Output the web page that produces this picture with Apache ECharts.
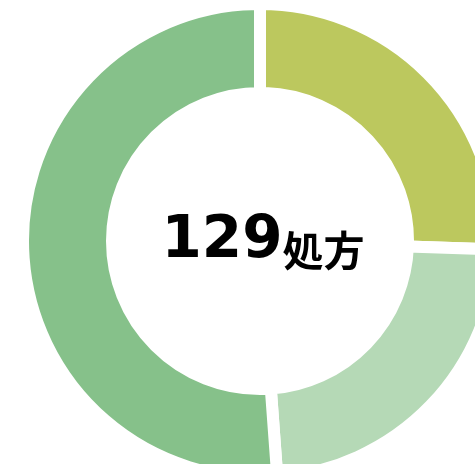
<!DOCTYPE html>
<html>
<head>
    <meta charset="utf-8">
    <title>処方</title>
    <script src="https://cdn.jsdelivr.net/npm/echarts@6/dist/echarts.min.js"></script>
    <style>
      html, body { margin: 0; padding: 0; background: #fff; }
    </style>
</head>
<body>
    <div id="main" style="width:475px;height:464px;"></div>
    <script type="text/javascript">
      // データ
      var categories = ['区分1', '区分2', '区分3'];
      var values = [33, 30, 66];
      var colors = ['#BCC85E', '#B5D9B6', '#86C18A'];
      var unit = '処方';

      var total = values.reduce(function (a, b) { return a + b; }, 0);

      var echart = echarts.init(document.getElementById('main'));
      var option = {
        animation: false,
        series: [{
          type: 'pie',
          center: [260, 241],
          radius: [148, 237],
          startAngle: 90,
          clockwise: true,
          label: { show: false },
          labelLine: { show: false },
          emphasis: { disabled: true },
          itemStyle: { borderColor: '#fff', borderWidth: 12 },
          data: categories.map(function (c, i) {
            return { name: c, value: values[i], itemStyle: { color: colors[i] } };
          })
        }],
        graphic: [{
          type: 'text',
          x: 263,
          y: 242,
          style: {
            text: '{a|' + total + '}{b|' + unit + '}',
            align: 'center',
            verticalAlign: 'middle',
            rich: {
              a: { fontFamily: 'DejaVu Sans', fontWeight: 'bold', fontSize: 58, fill: '#000', verticalAlign: 'bottom' },
              b: { fontFamily: 'Noto Sans CJK JP', fontWeight: 'bold', fontSize: 41, fill: '#000', verticalAlign: 'bottom' }
            }
          }
        }]
      };
      echart.setOption(option);
    </script>
</body>
</html>
